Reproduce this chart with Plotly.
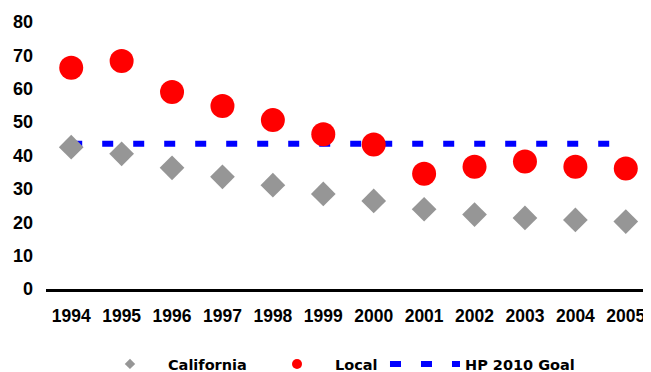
import plotly.graph_objects as go

years = ["1994", "1995", "1996", "1997", "1998", "1999", "2000", "2001", "2002", "2003", "2004", "2005"]
california = [42.5, 40.5, 36.3, 33.6, 31.1, 28.5, 26.4, 23.9, 22.3, 21.3, 20.7, 20.2]
local = [66.3, 68.3, 59.0, 54.8, 50.6, 46.4, 43.3, 34.5, 36.6, 38.2, 36.6, 36.1]
goal = [43.5] * len(years)
y_ticks = [0, 10, 20, 30, 40, 50, 60, 70, 80]

GREY, RED, BLUE = "#969696", "#FF0000", "#0000FF"
DASH = "11px,20px"

fig = go.Figure()
fig.add_trace(go.Scatter(
    x=years, y=goal, mode="lines", showlegend=False,
    line=dict(color=BLUE, width=6, dash=DASH),
))
fig.add_trace(go.Scatter(
    x=years, y=california, mode="markers", showlegend=False,
    marker=dict(symbol="diamond", size=19, color=GREY),
))
fig.add_trace(go.Scatter(
    x=years, y=local, mode="markers", showlegend=False,
    marker=dict(symbol="circle", size=24, color=RED),
))
# legend-only entries (small symbols as in the reference)
fig.add_trace(go.Scatter(x=[None], y=[None], mode="markers", name="California",
                         marker=dict(symbol="diamond", size=8, color=GREY), legend="legend"))
fig.add_trace(go.Scatter(x=[None], y=[None], mode="markers", name="Local",
                         marker=dict(symbol="circle", size=10, color=RED), legend="legend2"))
fig.add_trace(go.Scatter(x=[None], y=[None], mode="lines", name="HP 2010 Goal",
                         line=dict(color=BLUE, width=6, dash=DASH), legend="legend3"))

lfont = dict(size=14.5, family="DejaVu Sans, Liberation Sans", weight="bold", color="black")
common = dict(orientation="h", xref="container", yref="container", yanchor="middle", y=0.022,
              xanchor="left", font=lfont, bgcolor="rgba(0,0,0,0)")

fig.update_layout(
    width=643, height=364,
    margin=dict(l=38, r=0, t=14, b=83),
    plot_bgcolor="white", paper_bgcolor="white",
    font=dict(family="Liberation Sans, Arial", color="black"),
    showlegend=True,
    legend=dict(x=0.1306, itemwidth=66, **common),
    legend2=dict(x=0.3904, itemwidth=66, **common),
    legend3=dict(x=0.5863, itemwidth=70, **common),
)
fig.update_xaxes(
    type="category", range=[-0.5, 11.5], automargin=False,
    showgrid=False, showline=True, linecolor="black", linewidth=3,
    ticks="", tickfont=dict(size=17.5, weight="bold"), ticklabelstandoff=9,
)
fig.update_yaxes(
    range=[0, 80], tickvals=y_ticks, automargin=False,
    showgrid=False, showline=False, zeroline=False,
    ticks="", tickfont=dict(size=18, weight="bold"), ticklabelstandoff=12,
)
fig.update_traces(cliponaxis=False)

fig.write_html("out.html")
